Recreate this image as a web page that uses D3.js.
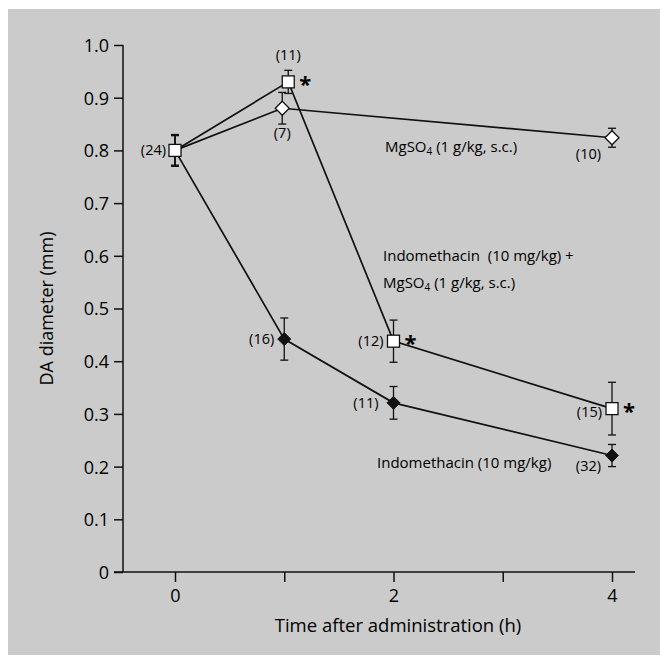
<!DOCTYPE html>
<html>
<head>
<meta charset="utf-8">
<script src="https://cdn.jsdelivr.net/npm/d3@7"></script>
<style>
  html, body { margin: 0; padding: 0; background: #fff; }
  svg text { font-family: "Open Sans", "Noto Sans", sans-serif; fill: #000; }
</style>
</head>
<body>
<div id="chart"></div>
<script>
// hours after administration
const times = [0, 1, 2, 4];
const xTicks = [0, 1, 2, 3, 4];
const xTickLabels = ["0", "", "2", "", "4"];
const yTicks = [0, 0.1, 0.2, 0.3, 0.4, 0.5, 0.6, 0.7, 0.8, 0.9, 1.0];

// Indomethacin (10 mg/kg) - filled diamonds
const indoMean = [0.80, 0.442, 0.321, 0.221];
const indoErr = [0.03, 0.04, 0.031, 0.021];
const indoN = ["", "(16)", "(11)", "(32)"];

// Indomethacin + MgSO4 - open squares
const comboMean = [0.80, 0.93, 0.438, 0.31];
const comboErr = [0.028, 0.022, 0.04, 0.05];
const comboN = ["(24)", "(11)", "(12)", "(15)"];
const comboStar = [false, true, true, true];

// MgSO4 (1 g/kg, s.c.) - open diamonds
const mgTimes = [0, 1, 4];
const mgMean = [0.80, 0.88, 0.824];
const mgErr = [0.03, 0.03, 0.018];
const mgN = ["", "(7)", "(10)"];

const width = 668, height = 657;
const margin = { left: 123, right: 56, top: 45, bottom: 85 };

const svg = d3.select("#chart").append("svg")
    .attr("width", width)
    .attr("height", height);

// grey halftone panel
svg.append("rect")
    .attr("x", 8).attr("y", 9)
    .attr("width", 652).attr("height", 646)
    .attr("fill", "#cbcbcb");

const x = d3.scaleLinear().domain([0, 4]).range([175, 612]);
const y = d3.scaleLinear().domain([0, 1]).range([572, 45]);

const ink = "#111";

// y axis
const yAxis = svg.append("g")
    .attr("transform", `translate(${margin.left},0)`)
    .call(d3.axisLeft(y).tickValues(yTicks).tickSize(9).tickPadding(5)
        .tickFormat(d => d === 0 ? "0" : d3.format(".1f")(d)));
yAxis.select(".domain").attr("d", `M0,${y(1)}V${y(0)}`).attr("stroke", ink).attr("stroke-width", 1.5);
yAxis.selectAll(".tick line").attr("stroke", ink).attr("stroke-width", 1.5);
yAxis.selectAll(".tick text").style("font-size", "18px").attr("dy", "0.36em");

// x axis
const xAxis = svg.append("g")
    .attr("transform", `translate(0,${y(0)})`)
    .call(d3.axisBottom(x).tickValues(xTicks).tickSize(10).tickPadding(7)
        .tickFormat((d, i) => xTickLabels[i]));
xAxis.select(".domain").attr("d", `M${margin.left - 9},0H635`).attr("stroke", ink).attr("stroke-width", 1.5);
xAxis.selectAll(".tick line").attr("stroke", ink).attr("stroke-width", 1.5);
xAxis.selectAll(".tick text").style("font-size", "18px");

// axis titles
svg.append("text")
    .attr("transform", `translate(53,${y(0.5)}) rotate(-90)`)
    .attr("text-anchor", "middle")
    .style("font-size", "18px")
    .text("DA diameter (mm)");
svg.append("text")
    .attr("x", 398).attr("y", 632)
    .attr("text-anchor", "middle")
    .style("font-size", "18.5px")
    .text("Time after administration (h)");

// small pixel offsets the original uses so overlapping markers at 1 h stay visible
const mgShift = t => t === 1 ? -2 : 0;
const comboShift = t => t === 1 ? 4 : 0;

const line = (shift) => d3.line().x(d => x(d[0]) + shift(d[0])).y(d => y(d[1]));

const plot = svg.append("g");

function drawSeries(ts, means, errs, shift) {
    const pts = ts.map((t, i) => [t, means[i]]);
    plot.append("path")
        .attr("d", line(shift)(pts))
        .attr("fill", "none").attr("stroke", ink).attr("stroke-width", 1.7);
    ts.forEach((t, i) => {
        if (!errs[i]) return;
        const cx = x(t) + shift(t);
        const g = plot.append("g").attr("stroke", ink).attr("stroke-width", 1.3);
        g.append("line").attr("x1", cx).attr("x2", cx)
            .attr("y1", y(means[i] + errs[i])).attr("y2", y(means[i] - errs[i]));
        [means[i] + errs[i], means[i] - errs[i]].forEach(v => {
            g.append("line").attr("x1", cx - 4).attr("x2", cx + 4)
                .attr("y1", y(v)).attr("y2", y(v));
        });
    });
}

drawSeries(times, indoMean, indoErr, () => 0);
drawSeries(mgTimes, mgMean, mgErr, mgShift);
drawSeries(times, comboMean, comboErr, comboShift);

const diamond = r => `M0,${-r}L${r},0L0,${r}L${-r},0Z`;

// filled diamonds (indomethacin), skip 0 h where the square sits
times.forEach((t, i) => {
    if (t === 0) return;
    plot.append("path")
        .attr("d", diamond(6.5))
        .attr("transform", `translate(${x(t)},${y(indoMean[i])})`)
        .attr("fill", ink).attr("stroke", ink).attr("stroke-width", 1);
});
// open diamonds (MgSO4)
mgTimes.forEach((t, i) => {
    if (t === 0) return;
    plot.append("path")
        .attr("d", diamond(7))
        .attr("transform", `translate(${x(t) + mgShift(t)},${y(mgMean[i])})`)
        .attr("fill", "#fff").attr("stroke", ink).attr("stroke-width", 1.3);
});
// open squares (indomethacin + MgSO4)
times.forEach((t, i) => {
    plot.append("rect")
        .attr("x", x(t) + comboShift(t) - 6).attr("y", y(comboMean[i]) - 6)
        .attr("width", 12).attr("height", 12)
        .attr("fill", "#fff").attr("stroke", ink).attr("stroke-width", 1.3);
});

// n labels
const nLabel = (px, py, txt, anchor) => svg.append("text")
    .attr("x", px).attr("y", py).attr("text-anchor", anchor || "end")
    .style("font-size", "14.5px").text(txt);

nLabel(x(0) - 9, y(comboMean[0]) + 5, comboN[0]);
nLabel(x(1) + 4, y(comboMean[1]) - 22, comboN[1], "middle");
nLabel(x(2) - 10, y(comboMean[2]) + 5, comboN[2]);
nLabel(x(4) - 10, y(comboMean[3]) + 8, comboN[3]);
nLabel(x(1) - 10, y(indoMean[1]) + 5, indoN[1]);
nLabel(x(2) - 15, y(indoMean[2]) + 5, indoN[2]);
nLabel(x(4) - 11, y(indoMean[3]) + 15, indoN[3]);
nLabel(x(1) - 2, y(mgMean[1]) + 30, mgN[1], "middle");
nLabel(x(4) - 11, y(mgMean[2]) + 21, mgN[2]);

// significance stars
times.forEach((t, i) => {
    if (!comboStar[i]) return;
    svg.append("text")
        .attr("x", x(t) + comboShift(t) + 11).attr("y", y(comboMean[i]) + 10)
        .style("font-size", "22px").style("font-weight", "bold").text("*");
});

// series labels
function chemLabel(px, py, parts) {
    const t = svg.append("text").attr("x", px).attr("y", py).style("font-size", "15px");
    parts.forEach(p => {
        const s = t.append("tspan").text(p[0]);
        if (p[1]) s.attr("dy", 3).style("font-size", "10px");
        if (p[2]) s.attr("dy", -3);
    });
}
chemLabel(385, 152, [["MgSO"], ["4", true], [" (1 g/kg, s.c.)", false, true]]);
svg.append("text").attr("x", 383).attr("y", 261).style("font-size", "15px")
    .attr("xml:space", "preserve").text("Indomethacin  (10 mg/kg) +");
chemLabel(383, 288, [["MgSO"], ["4", true], [" (1 g/kg, s.c.)", false, true]]);
svg.append("text").attr("x", 377).attr("y", 468).style("font-size", "15px")
    .text("Indomethacin (10 mg/kg)");
</script>
</body>
</html>
